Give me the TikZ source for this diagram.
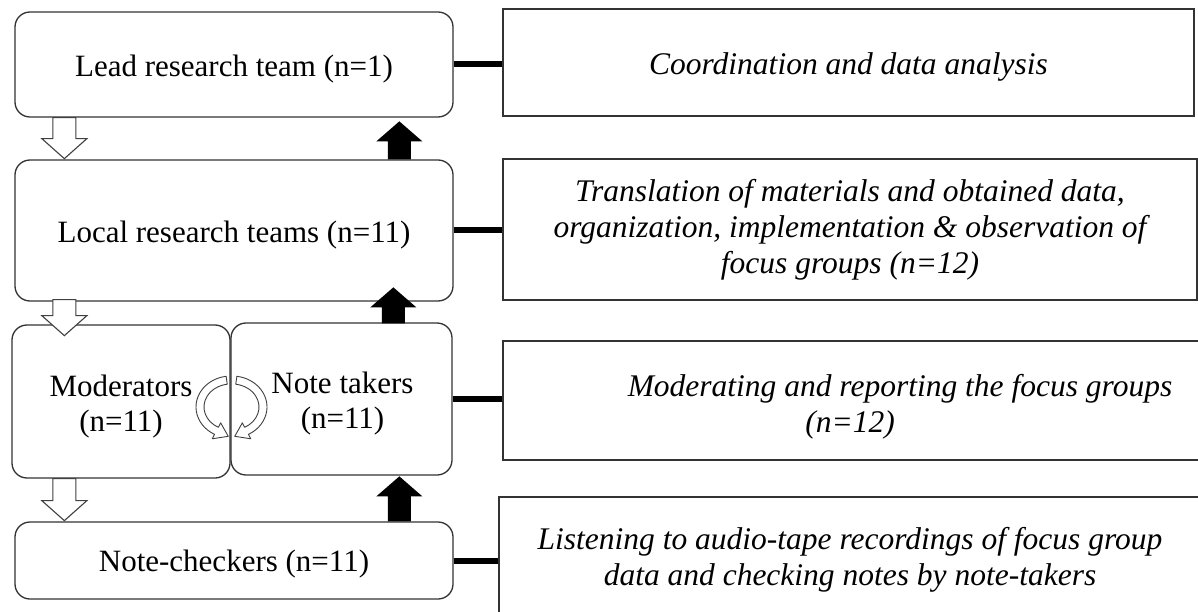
\documentclass[tikz,border=0pt]{standalone}
\usepackage{fontspec}
\setmainfont{Liberation Serif}
\usetikzlibrary{calc}
\begin{document}
\begin{tikzpicture}[x=1pt,y=-1pt,
  lbox/.style={draw=black!80, line width=1.3pt, rounded corners=15pt, inner sep=0pt},
  ltext/.style={align=center, font=\fontsize{31}{35}\selectfont, inner sep=0pt},
  rbox/.style={draw=black!80, line width=1.3pt, inner sep=0pt},
  rtext/.style={align=center, font=\fontsize{31.5}{36}\selectfont\itshape, inner sep=0pt},
  link/.style={line width=6pt, black},
  curv/.style={draw=black!75, fill=white, line width=0.9pt, line join=round},
  pics/wdown/.style={code={
    \draw[draw=black!75, fill=white, line width=1.1pt]
      (-11.5,0) -- (11.5,0) -- (11.5,{#1-20}) -- (22.5,{#1-20}) -- (0,#1)
      -- (-22.5,{#1-20}) -- (-11.5,{#1-20}) -- cycle;}},
  pics/bup/.style={code={
    \fill[black]
      (-11.5,0) -- (11.5,0) -- (11.5,{-#1+20}) -- (23,{-#1+20}) -- (0,-#1)
      -- (-23,{-#1+20}) -- (-11.5,{-#1+20}) -- cycle;}}
]
\clip (0,0) rectangle (1198,612);
\fill[white] (0,0) rectangle (1198,612);

% left column
\node[lbox, minimum width=438pt, minimum height=105pt] (lead) at (234,64.5) {};
\node[ltext] (leadt) at ($(lead.center)+(0,5)$) {Lead research team (n=1)};
\node[lbox, minimum width=438pt, minimum height=141pt] (local) at (234,230.5) {};
\node[ltext] (localt) at ($(local.center)+(0,5)$) {Local research teams (n=11)};
\node[lbox, minimum width=218pt, minimum height=153pt] (mod) at (121,401.5) {};
\node[ltext] (modt) at ($(mod.center)+(0,5)$) {Moderators\\(n=11)};
\node[lbox, minimum width=221pt, minimum height=152pt] (note) at (341.5,399) {};
\node[ltext] (notet) at ($(note.center)+(1,5)$) {Note takers\\(n=11)};
\node[lbox, minimum width=438pt, minimum height=77pt] (check) at (234,560.5) {};
\node[ltext] (checkt) at ($(check.center)+(0,4)$) {Note-checkers (n=11)};

% right column
\node[rbox, minimum width=691pt, minimum height=107pt] (r1) at (848.5,62.5) {};
\node[rtext] (r1t) at ($(r1.center)+(0,4)$) {Coordination and data analysis};
\node[rbox, rtext, minimum width=694pt, minimum height=141pt] (r2) at (850,229.5)
  {Translation of materials and obtained data,\\organization, implementation \& observation of\\focus groups (n=12)};
\node[rbox, minimum width=712pt, minimum height=119pt] (r3) at (859,400.5) {};
\node[rtext] (r3t) at (850,407) {\hspace*{100pt}Moderating and reporting the focus groups\\(n=12)};
\node[rbox, minimum width=716pt, minimum height=128pt] (r4) at (857,561) {};
\node[rtext] (r4t) at (850,560) {Listening to audio-tape recordings of focus group\\data and checking notes by note-takers};

% connectors
\draw[link] (lead.east) -- (lead.east -| r1.west);
\draw[link] (local.east) -- (local.east -| r2.west);
\draw[link] (note.east) -- (note.east -| r3.west);
\draw[link] (check.east) -- (check.east -| r4.west);

% block arrows
\pic at ($(lead.south west)+(50,0)$) {wdown=41};
\pic at ($(local.south west)+(50,-2)$) {wdown=36};
\pic at ($(mod.south west)+(53,0)$) {wdown=42};
\pic at ($(local.north west)+(385,0)$) {bup=38};
\pic at ($(note.north west)+(163,1)$) {bup=36};
\pic at ($(check.north west)+(385,0)$) {bup=45};

% circular arrows between moderators and note takers
\draw[curv] (226.13,376.30) arc[start angle=262, end angle=118, x radius=35, y radius=31]
  -- (212.22,438.78) -- (228.25,436.31) -- (220.67,422.89) -- (218.32,427.31)
  arc[start angle=118, end angle=262, x radius=27, y radius=23] -- cycle;
\begin{scope}[xshift=463pt, xscale=-1]
\draw[curv] (226.13,376.30) arc[start angle=262, end angle=118, x radius=35, y radius=31]
  -- (212.22,438.78) -- (228.25,436.31) -- (220.67,422.89) -- (218.32,427.31)
  arc[start angle=118, end angle=262, x radius=27, y radius=23] -- cycle;
\end{scope}
\end{tikzpicture}
\end{document}
